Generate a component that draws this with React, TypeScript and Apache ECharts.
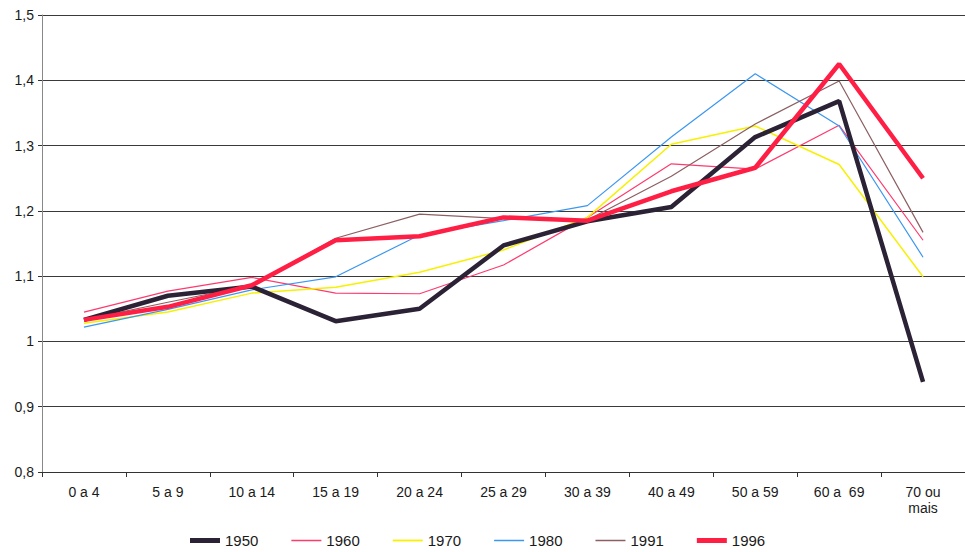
import React, { useEffect, useRef } from "react";
import * as echarts from "echarts";

const categories = ["0 a 4", "5 a 9", "10 a 14", "15 a 19", "20 a 24", "25 a 29", "30 a 39", "40 a 49", "50 a 59", "60 a  69", "70 ou\nmais"];
const s1950 = [1.033, 1.07, 1.084, 1.031, 1.05, 1.147, 1.184, 1.206, 1.313, 1.368, 0.938];
const s1960 = [1.045, 1.077, 1.098, 1.074, 1.073, 1.117, 1.19, 1.272, 1.264, 1.331, 1.155];
const s1970 = [1.028, 1.045, 1.074, 1.083, 1.106, 1.14, 1.19, 1.302, 1.33, 1.271, 1.099];
const s1980 = [1.022, 1.049, 1.079, 1.099, 1.163, 1.185, 1.208, 1.313, 1.41, 1.33, 1.129];
const s1991 = [1.033, 1.06, 1.086, 1.158, 1.195, 1.188, 1.186, 1.253, 1.333, 1.399, 1.167];
const s1996 = [1.033, 1.053, 1.086, 1.155, 1.161, 1.19, 1.185, 1.23, 1.266, 1.425, 1.25];
const seriesNames = ["1950", "1960", "1970", "1980", "1991", "1996"];
const yTickLabels: Record<string, string> = { "0.8": "0,8", "0.9": "0,9", "1": "1", "1.1": "1,1", "1.2": "1,2", "1.3": "1,3", "1.4": "1,4", "1.5": "1,5" };

export default function App() {
  const ref = useRef<HTMLDivElement>(null);
  useEffect(() => {
    if (!ref.current) return;
    const chart = echarts.init(ref.current, null, { renderer: "svg" });
    const styles = [
      { data: s1950, color: "#2b2236", width: 4.5, icon: "path://M0,0h30v5h-30z" },
      { data: s1960, color: "#ff3a6e", width: 1.2, icon: "path://M0,0h30v1.5h-30z" },
      { data: s1970, color: "#f7f000", width: 1.5, icon: "path://M0,0h30v1.8h-30z" },
      { data: s1980, color: "#3b97f0", width: 1.2, icon: "path://M0,0h30v1.5h-30z" },
      { data: s1991, color: "#8c5f63", width: 1.2, icon: "path://M0,0h30v1.5h-30z" },
      { data: s1996, color: "#ff1f45", width: 4.5, icon: "path://M0,0h30v5h-30z" },
    ];
    chart.setOption({
      animation: false,
      backgroundColor: "#ffffff",
      grid: { left: 42, right: 0, top: 15, bottom: 80 },
      legend: {
        top: 533,
        left: 190,
        padding: 0,
        itemWidth: 30,
        itemHeight: 8,
        itemGap: 33,
        data: seriesNames.map((n, i) => ({ name: n, icon: styles[i].icon, itemStyle: { color: styles[i].color } })),
        textStyle: { fontFamily: "Liberation Sans, Arial", fontSize: 15, lineHeight: 14, color: "#1a1a1a" },
      },
      xAxis: {
        type: "category",
        data: categories,
        boundaryGap: true,
        axisLine: { lineStyle: { color: "#333", width: 1 } },
        axisTick: { show: true, length: 5, lineStyle: { color: "#333" } },
        axisLabel: {
          fontFamily: "Liberation Sans, Arial",
          fontSize: 14,
          color: "#1a1a1a",
          margin: 12,
          lineHeight: 16,
        },
      },
      yAxis: {
        type: "value",
        min: 0.8,
        max: 1.5,
        interval: 0.1,
        axisLine: { show: true, lineStyle: { color: "#888" } },
        axisTick: { show: true, length: 4, lineStyle: { color: "#333" } },
        splitLine: { lineStyle: { color: "#3a3a3a", width: 1 } },
        axisLabel: {
          fontFamily: "Liberation Sans, Arial",
          fontSize: 14,
          color: "#1a1a1a",
          margin: 8,
          formatter: (v: number) => yTickLabels[String(Math.round(v * 10) / 10)] ?? String(v),
        },
      },
      series: styles.map((s, i) => ({
        name: seriesNames[i],
        type: "line",
        data: s.data,
        symbol: "none",
        z: i === 5 ? 10 : i === 0 ? 9 : 5,
        lineStyle: { color: s.color, width: s.width },
        itemStyle: { color: s.color },
      })),
    });
    return () => chart.dispose();
  }, []);
  return <div ref={ref} style={{ position: "fixed", left: 0, top: 0, width: 965, height: 552 }} />;
}
